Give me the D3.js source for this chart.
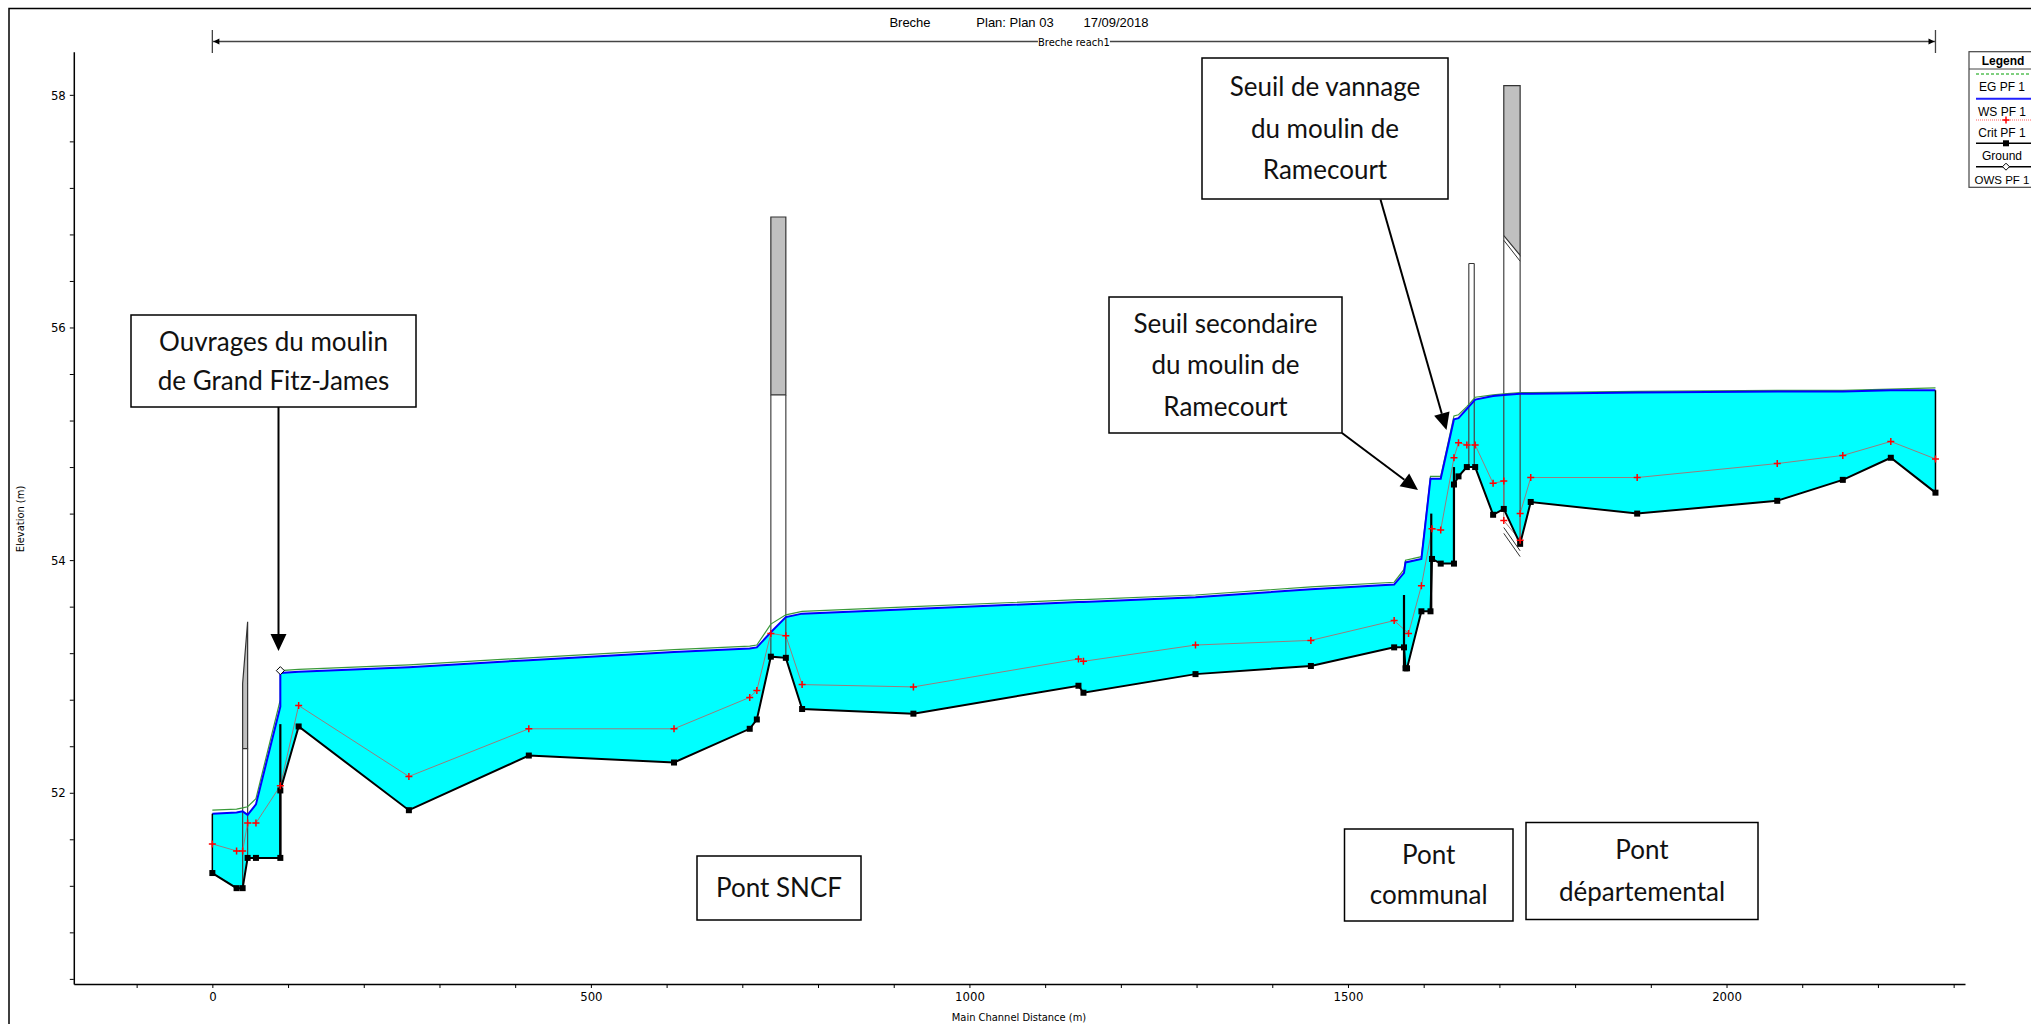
<!DOCTYPE html>
<html>
<head>
<meta charset="utf-8">
<script src="https://cdn.jsdelivr.net/npm/d3@7"></script>
<style>
  body { margin: 0; background: #fff; }
  svg { display: block; }
</style>
</head>
<body>
<svg id="chart"></svg>
<script>
// Profile: [main channel distance (m), elevation (m)]
const ground = [
  [0, 51.31], [32, 51.18], [40, 51.18], [46.6, 51.44], [57.6, 51.44], [89.8, 51.44], [89.8, 52.02],
  [114, 52.57], [259.6, 51.85], [418, 52.32], [609.8, 52.26], [709.8, 52.55], [719.2, 52.63],
  [737.7, 53.17], [757.5, 53.16], [779, 52.72], [926, 52.68], [1144, 52.92], [1150.6, 52.86],
  [1298.6, 53.02], [1451, 53.09], [1561, 53.25], [1574, 53.25], [1576, 53.07], [1578, 53.07],
  [1597, 53.56], [1609, 53.56], [1611, 54.01], [1622.5, 53.97], [1640, 53.97], [1640, 54.65],
  [1646, 54.72], [1657, 54.80], [1668, 54.80], [1691.7, 54.39], [1705.8, 54.44], [1727.4, 54.14],
  [1741.4, 54.50], [1882, 54.40], [2067, 54.51], [2153.6, 54.69], [2217, 54.88], [2276, 54.58]
];
const critical = [
  [0, 51.56], [32, 51.50], [40, 51.50], [46.6, 51.74], [57.6, 51.74], [89.8, 52.06], [114, 52.75],
  [259.6, 52.14], [418, 52.55], [609.8, 52.55], [709.8, 52.82], [719.2, 52.88], [737.7, 53.37],
  [757.5, 53.35], [779, 52.93], [926, 52.91], [1144, 53.15], [1150.6, 53.13], [1298.6, 53.27],
  [1451, 53.31], [1561, 53.48], [1580, 53.37], [1597, 53.78], [1611, 54.27], [1622.5, 54.26],
  [1640, 54.88], [1646, 55.01], [1657, 54.99], [1668, 54.99], [1691.7, 54.66], [1705.8, 54.68],
  [1705.8, 54.34], [1727.4, 54.17], [1727.4, 54.40], [1741.4, 54.71], [1882, 54.71], [2067, 54.83],
  [2153.6, 54.90], [2217, 55.02], [2276, 54.87]
];
const waterSurface = [
  [0, 51.82], [32, 51.83], [40, 51.84], [46.6, 51.81], [57.6, 51.90], [89.8, 52.74], [89.8, 53.03],
  [114, 53.04], [259.6, 53.08], [418, 53.14], [609.8, 53.21], [709.8, 53.24], [719.2, 53.25],
  [737.7, 53.38], [757.5, 53.51], [779, 53.54], [926, 53.58], [1144, 53.64], [1150.6, 53.64],
  [1298.6, 53.68], [1451, 53.75], [1561, 53.79], [1574, 53.89], [1576, 53.98], [1597, 54.01],
  [1609, 54.70], [1622.5, 54.70], [1640, 55.21], [1646, 55.22], [1657, 55.30], [1668, 55.38],
  [1691.7, 55.41], [1705.8, 55.42], [1727.4, 55.43], [1741.4, 55.43], [1882, 55.44], [2067, 55.45],
  [2153.6, 55.45], [2217, 55.46], [2276, 55.46]
];
const energyGrade = [
  [0, 51.85], [32, 51.86], [40, 51.87], [46.6, 51.88], [57.6, 51.95], [89.8, 52.80], [89.8, 53.05],
  [114, 53.06], [259.6, 53.10], [418, 53.16], [609.8, 53.23], [709.8, 53.26], [719.2, 53.27],
  [737.7, 53.45], [757.5, 53.53], [779, 53.56], [926, 53.60], [1144, 53.66], [1150.6, 53.66],
  [1298.6, 53.70], [1451, 53.77], [1561, 53.81], [1574, 53.92], [1576, 54.00], [1597, 54.03],
  [1609, 54.72], [1622.5, 54.72], [1640, 55.24], [1646, 55.25], [1657, 55.32], [1668, 55.40],
  [1691.7, 55.42], [1705.8, 55.43], [1727.4, 55.44], [1741.4, 55.44], [1882, 55.45], [2067, 55.46],
  [2153.6, 55.46], [2217, 55.47], [2276, 55.48]
];
const openWaterSurface = [[89.8, 53.05]];

// inline weirs: [station, base elevation, crest elevation]
const weirs = [[89.8, 51.44, 52.59], [1574, 53.07, 53.70], [1610, 53.56, 54.40], [1640, 53.97, 54.80]];

// bridges and gates: stations, deck top, low chord, foot of each face
const bridges = [
  { x1: 40, x2: 46.6, topL: 52.94, topR: 53.47, lowL: 52.38, lowR: 52.38, footL: 51.18, footR: 51.44 },
  { x1: 737.7, x2: 757.5, topL: 56.95, topR: 56.95, lowL: 55.42, lowR: 55.42, footL: 53.17, footR: 53.16 },
  { x1: 1659.6, x2: 1666.8, topL: 56.55, topR: 56.55, lowL: 56.55, lowR: 56.55, footL: 54.80, footR: 54.80 },
  { x1: 1705.8, x2: 1727.4, topL: 58.08, topR: 58.08, lowL: 56.79, lowR: 56.62, footL: 54.44, footR: 54.14 }
];
// second low chord / invert lines drawn inside the upstream bridge
const bridgeExtraLines = [
  [[1705.8, 56.75], [1727.4, 56.57]],
  [[1705.8, 54.23], [1727.4, 54.03]],
  [[1705.8, 54.28], [1727.4, 54.08]]
];

const yLabels = [52, 54, 56, 58];
const xLabels = [0, 500, 1000, 1500, 2000];
const legendItems = ["EG PF 1", "WS PF 1", "Crit PF 1", "Ground", "OWS PF 1"];

const calloutTexts = [
  ["Ouvrages du moulin", "de Grand Fitz-James"],
  ["Seuil de vannage", "du moulin de", "Ramecourt"],
  ["Seuil secondaire", "du moulin de", "Ramecourt"],
  ["Pont SNCF"],
  ["Pont", "communal"],
  ["Pont", "départemental"]
];

// ---------------------------------------------------------------
const width = 2031, height = 1024;
const svg = d3.select("#chart").attr("width", width).attr("height", height);

const x = d3.scaleLinear().domain([-183, 2315]).range([73.8, 1965]);
const y = d3.scaleLinear().domain([50.356, 58.37]).range([984, 51.8]);

const narrow = "'Liberation Sans Narrow', 'Arial Narrow', 'DejaVu Sans Condensed', sans-serif";
const sans = "'Liberation Sans', Arial, sans-serif";
const callFont = "Lato, 'Open Sans', sans-serif";

// outer frame
svg.append("path").attr("d", "M9,1030V8.5H2040").attr("fill", "none").attr("stroke", "#000").attr("stroke-width", 1.5);

// title
const title = svg.append("g").attr("font-family", sans).attr("font-size", 13).attr("fill", "#000").attr("text-anchor", "middle");
title.append("text").attr("x", 910).attr("y", 27).text("Breche");
title.append("text").attr("x", 1015).attr("y", 27).text("Plan: Plan 03");
title.append("text").attr("x", 1116).attr("y", 27).text("17/09/2018");

// reach line
const reachY = 41.5;
const rx1 = x(ground[0][0]), rx2 = x(ground[ground.length - 1][0]);
const reach = svg.append("g").attr("stroke", "#444").attr("stroke-width", 1.3);
reach.append("line").attr("x1", rx1).attr("x2", rx2).attr("y1", reachY).attr("y2", reachY);
reach.append("line").attr("x1", rx1).attr("x2", rx1).attr("y1", 30).attr("y2", 53);
reach.append("line").attr("x1", rx2).attr("x2", rx2).attr("y1", 30).attr("y2", 53);
svg.append("path").attr("d", `M${rx1 + 1},${reachY}l6,-3v6z`).attr("fill", "#000");
svg.append("path").attr("d", `M${rx2 - 1},${reachY}l-6,-3v6z`).attr("fill", "#000");
const reachMid = (rx1 + rx2) / 2;
svg.append("rect").attr("x", reachMid - 36).attr("y", reachY - 6).attr("width", 72).attr("height", 12).attr("fill", "#fff");
svg.append("text").attr("x", reachMid).attr("y", reachY + 4).attr("text-anchor", "middle")
  .attr("font-family", narrow).attr("font-size", 11).text("Breche reach1");

// water between the water surface and the ground
const water = waterSurface.concat(ground.slice().reverse());
svg.append("path")
  .attr("d", "M" + water.map(d => x(d[0]) + "," + y(d[1])).join("L") + "Z")
  .attr("fill", "#00ffff");

// bridges and gates
bridges.forEach(b => {
  svg.append("path")
    .attr("d", `M${x(b.x1)},${y(b.lowL)}L${x(b.x1)},${y(b.topL)}L${x(b.x2)},${y(b.topR)}L${x(b.x2)},${y(b.lowR)}Z`)
    .attr("fill", "#c0c0c0").attr("stroke", "#333").attr("stroke-width", 1.2);
  svg.append("line").attr("x1", x(b.x1)).attr("x2", x(b.x1)).attr("y1", y(b.lowL)).attr("y2", y(b.footL))
    .attr("stroke", "#444").attr("stroke-width", 1.2);
  svg.append("line").attr("x1", x(b.x2)).attr("x2", x(b.x2)).attr("y1", y(b.lowR)).attr("y2", y(b.footR))
    .attr("stroke", "#444").attr("stroke-width", 1.2);
});
bridgeExtraLines.forEach(l => {
  svg.append("line").attr("x1", x(l[0][0])).attr("y1", y(l[0][1])).attr("x2", x(l[1][0])).attr("y2", y(l[1][1]))
    .attr("stroke", "#333").attr("stroke-width", 1);
});

// series lines
const line = d3.line().x(d => x(d[0])).y(d => y(d[1]));
svg.append("path").attr("d", line(energyGrade)).attr("fill", "none").attr("stroke", "#3a9a3a").attr("stroke-width", 1.2);
svg.append("path").attr("d", line(waterSurface)).attr("fill", "none").attr("stroke", "#0000ff").attr("stroke-width", 2);
svg.append("path").attr("d", line(critical)).attr("fill", "none").attr("stroke", "#9a7c7c").attr("stroke-width", 1);
svg.append("path").attr("d", line(ground)).attr("fill", "none").attr("stroke", "#000").attr("stroke-width", 2);

// section end lines
[[0, 0], [ground.length - 1, waterSurface.length - 1]].forEach(([gi, wi]) => {
  svg.append("line").attr("x1", x(ground[gi][0])).attr("x2", x(ground[gi][0]))
    .attr("y1", y(ground[gi][1])).attr("y2", y(waterSurface[wi][1])).attr("stroke", "#000").attr("stroke-width", 1.5);
});

// weirs
weirs.forEach(w => {
  svg.append("line").attr("x1", x(w[0])).attr("x2", x(w[0])).attr("y1", y(w[1])).attr("y2", y(w[2]))
    .attr("stroke", "#000").attr("stroke-width", 2.2);
});

// markers
svg.append("g").selectAll("rect").data(ground).join("rect")
  .attr("x", d => x(d[0]) - 3).attr("y", d => y(d[1]) - 3).attr("width", 6).attr("height", 6).attr("fill", "#000");
svg.append("g").selectAll("path").data(critical).join("path")
  .attr("d", d => `M${x(d[0]) - 3.5},${y(d[1])}h7M${x(d[0])},${y(d[1]) - 3.5}v7`)
  .attr("stroke", "#ff0000").attr("stroke-width", 1.5);
svg.append("g").selectAll("path").data(openWaterSurface).join("path")
  .attr("d", d => `M${x(d[0])},${y(d[1]) - 4}l4,4l-4,4l-4,-4z`)
  .attr("fill", "#fff").attr("stroke", "#000").attr("stroke-width", 1);

// callouts
function arrow(x1, y1, x2, y2) {
  const a = Math.atan2(y2 - y1, x2 - x1), L = 17, w = 8;
  const bx = x2 - L * Math.cos(a), by = y2 - L * Math.sin(a);
  svg.append("line").attr("x1", x1).attr("y1", y1).attr("x2", bx).attr("y2", by)
    .attr("stroke", "#000").attr("stroke-width", 2);
  svg.append("path")
    .attr("d", `M${x2},${y2}L${bx + w * Math.sin(a)},${by - w * Math.cos(a)}L${bx - w * Math.sin(a)},${by + w * Math.cos(a)}Z`)
    .attr("fill", "#000");
}
const boxes = [
  { x: 131, y: 315, w: 285, h: 92, line: 39 },
  { x: 1202, y: 58, w: 246, h: 141, line: 41.5 },
  { x: 1109, y: 297, w: 233, h: 136, line: 41.5 },
  { x: 697, y: 856, w: 164, h: 64, line: 40 },
  { x: 1344.5, y: 829, w: 168.5, h: 92, line: 40.5 },
  { x: 1526, y: 822.5, w: 232, h: 97, line: 41.5 }
];
boxes.forEach((b, i) => {
  const lines = calloutTexts[i];
  svg.append("rect").attr("x", b.x).attr("y", b.y).attr("width", b.w).attr("height", b.h)
    .attr("fill", "#fff").attr("stroke", "#000").attr("stroke-width", 1.5);
  const cy = b.y + b.h / 2 - (lines.length - 1) * b.line / 2;
  lines.forEach((t, j) => {
    svg.append("text").attr("x", b.x + b.w / 2).attr("y", cy + j * b.line + 9)
      .attr("text-anchor", "middle").attr("font-family", callFont).attr("font-size", 26)
      .attr("fill", "#111").text(t);
  });
});
arrow(278.5, 407, 278.5, 651);
arrow(1380.5, 199.5, 1446.5, 430);
arrow(1342, 433, 1418, 490);

// axes
const yTicks = d3.range(126, 146).map(i => +(i * 0.4).toFixed(1));
const xTicks = d3.range(-1, 24).map(i => i * 100);
const yAxis = svg.append("g").attr("transform", "translate(73.8,0)")
  .call(d3.axisLeft(y).tickValues(yTicks).tickSize(4).tickSizeOuter(0).tickPadding(4)
    .tickFormat(v => yLabels.includes(v) ? v : ""));
const xAxis = svg.append("g").attr("transform", "translate(0,984)")
  .call(d3.axisBottom(x).tickValues(xTicks).tickSize(4).tickSizeOuter(0).tickPadding(4)
    .tickFormat(v => xLabels.includes(v) ? v : ""));
[yAxis, xAxis].forEach(g => {
  g.select(".domain").attr("stroke-width", 1.5);
  g.selectAll("text").attr("font-family", narrow).attr("font-size", 13).attr("fill", "#000");
});
svg.append("text").attr("transform", "translate(24,519) rotate(-90)").attr("text-anchor", "middle")
  .attr("font-family", narrow).attr("font-size", 11).text("Elevation (m)");
svg.append("text").attr("x", 1019).attr("y", 1021).attr("text-anchor", "middle")
  .attr("font-family", narrow).attr("font-size", 11).text("Main Channel Distance (m)");

// legend
const lg = svg.append("g").attr("font-family", sans).attr("font-size", 12).attr("text-anchor", "middle");
lg.append("rect").attr("x", 1969).attr("y", 51.7).attr("width", 90).attr("height", 135.6)
  .attr("fill", "#fff").attr("stroke", "#444").attr("stroke-width", 1.2);
lg.append("text").attr("x", 2003).attr("y", 64.5).attr("font-weight", "bold").text("Legend");
lg.append("line").attr("x1", 1969).attr("x2", 2040).attr("y1", 69).attr("y2", 69).attr("stroke", "#444");
const legendLineY = [74, 98.7, 120, 143.3, 166.7];
const legendStyles = [
  { stroke: "#00a000", dash: "3,2", w: 1 },
  { stroke: "#2020ff", dash: null, w: 2 },
  { stroke: "#ff6060", dash: "1,1", w: 1 },
  { stroke: "#000", dash: null, w: 1.5 },
  { stroke: "#000", dash: null, w: 1.5 }
];
legendItems.forEach((name, i) => {
  const ly = legendLineY[i], s = legendStyles[i];
  lg.append("line").attr("x1", 1976).attr("x2", 2040).attr("y1", ly).attr("y2", ly)
    .attr("stroke", s.stroke).attr("stroke-width", s.w).attr("stroke-dasharray", s.dash);
  if (i === 2) lg.append("path").attr("d", `M2002.5,${ly}h7M2006,${ly - 3.5}v7`).attr("stroke", "#f00").attr("stroke-width", 1.5);
  if (i === 3) lg.append("rect").attr("x", 2003).attr("y", ly - 3).attr("width", 6).attr("height", 6).attr("fill", "#000");
  if (i === 4) lg.append("path").attr("d", `M2006,${ly - 3.5}l3.5,3.5l-3.5,3.5l-3.5,-3.5z`).attr("fill", "#fff").attr("stroke", "#000");
  lg.append("text").attr("x", 2002).attr("y", ly + 17).attr("font-size", i === 4 ? 11.5 : 12).text(name);
});
</script>
</body>
</html>
